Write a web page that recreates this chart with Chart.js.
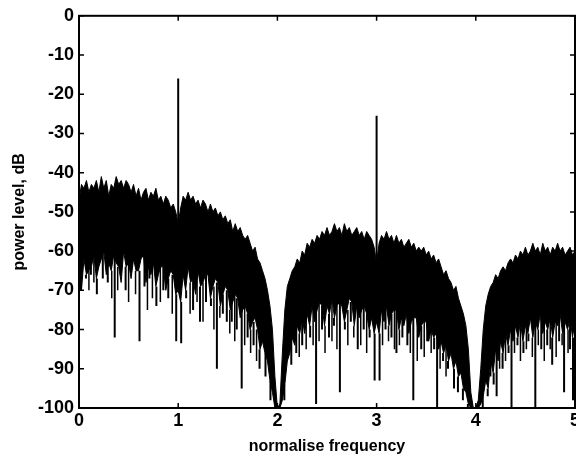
<!DOCTYPE html>
<html>
<head>
<meta charset="utf-8">
<title>power level vs normalise frequency</title>
<script src="https://cdn.jsdelivr.net/npm/chart.js@4.4.1/dist/chart.umd.min.js"></script>
<style>
  html, body { margin: 0; padding: 0; background: #fff; overflow: hidden; }
  .chart-wrap { width: 600px; height: 459px; }
</style>
</head>
<body>
<div class="chart-wrap"><canvas id="spectrumChart" width="600" height="459"></canvas></div>
<script>
/* ============================================
   POWER SPECTRUM - normalise frequency 0..5
   ============================================ */

// ===== DATA =====
const freqTicks = [0, 1, 2, 3, 4, 5];
const levelTicks = [0, -10, -20, -30, -40, -50, -60, -70, -80, -90, -100];

// top edge of the dense band, one value every 0.025
const upperStep = 0.025;
const upperLevel = [
    -47, -43, -44, -42, -45, -43, -44, -42, -45, -41,
    -44, -42, -46, -43, -44, -41, -43, -42, -44, -42,
    -43, -45, -43, -46, -44, -47, -45, -44, -47, -45,
    -46, -44, -47, -46, -48, -46, -47, -49, -48, -50,
    -53, -49, -46, -47, -45, -47, -46, -48, -47, -49,
    -47, -48, -50, -48, -50, -49, -51, -50, -52, -51,
    -53, -52, -55, -53, -55, -54, -56, -57, -56, -58,
    -60, -59, -62, -63, -65, -67, -70, -74, -80, -92,
    -100, -99, -86, -75, -69, -67, -65, -64, -62, -63,
    -60, -61, -58, -59, -57, -58, -56, -57, -55, -56,
    -54, -56, -55, -53, -55, -54, -56, -53, -55, -54,
    -56, -55, -54, -56, -55, -57, -55, -56, -57, -59,
    -63, -58, -56, -57, -55, -57, -56, -58, -56, -58,
    -57, -59, -58, -57, -59, -58, -60, -59, -60, -59,
    -61, -60, -62, -61, -63, -62, -64, -66, -65, -67,
    -68, -70, -69, -72, -74, -76, -79, -85, -96, -100,
    -100, -98, -90, -80, -74, -71, -69, -68, -66, -67,
    -65, -64, -65, -63, -62, -63, -61, -62, -60, -61,
    -59, -61, -60, -58, -60, -59, -61, -58, -60, -59,
    -61, -59, -60, -58, -60, -59, -61, -60, -59, -61,
    -60
];

// ragged bottom edge of the solid part of the band, one value every 0.025
const lowerStep = 0.025;
const lowerLevel = [
    -68, -70, -62, -66, -65, -64, -61, -67, -64, -62,
    -60, -66, -63, -65, -61, -63, -64, -68, -60, -64,
    -63, -67, -62, -65, -65, -62, -61, -68, -64, -66,
    -63, -69, -66, -64, -64, -70, -67, -65, -66, -71,
    -70, -73, -66, -70, -64, -68, -67, -71, -65, -69,
    -68, -66, -66, -72, -69, -67, -68, -74, -71, -69,
    -70, -75, -73, -71, -72, -77, -75, -74, -76, -80,
    -78, -77, -80, -85, -83, -86, -88, -93, -96, -100,
    -100, -100, -98, -94, -88, -86, -82, -84, -79, -81,
    -77, -81, -76, -79, -74, -78, -75, -73, -74, -79,
    -74, -76, -72, -77, -74, -73, -74, -78, -75, -72,
    -73, -79, -74, -77, -75, -74, -76, -80, -77, -81,
    -78, -81, -75, -78, -74, -79, -76, -75, -75, -80,
    -77, -79, -76, -81, -78, -77, -77, -82, -79, -78,
    -78, -83, -80, -82, -81, -85, -83, -86, -84, -88,
    -86, -90, -88, -92, -91, -95, -96, -99, -100, -100,
    -100, -100, -99, -97, -93, -95, -88, -91, -85, -88,
    -83, -86, -81, -84, -80, -83, -79, -82, -78, -83,
    -79, -81, -77, -82, -78, -80, -76, -81, -78, -80,
    -77, -82, -78, -79, -76, -81, -78, -80, -77, -82,
    -78
];

// long downward spikes below the band
const dipFreq = [
    0.02, 0.07, 0.12, 0.18, 0.24, 0.29, 0.36, 0.42, 0.47, 0.53,
    0.61, 0.66, 0.71, 0.78, 0.85, 0.90, 0.98, 1.03, 1.08, 1.15,
    1.22, 1.28, 1.33, 1.39, 1.45, 1.49, 1.54, 1.59, 1.64, 1.70,
    1.76, 1.82, 1.88, 1.93, 1.97, 2.03, 2.07, 2.14, 2.19, 2.25,
    2.33, 2.39, 2.45, 2.52, 2.57, 2.63, 2.68, 2.74, 2.81, 2.87,
    2.93, 2.98, 3.03, 3.09, 3.15, 3.20, 3.26, 3.31, 3.37, 3.45,
    3.51, 3.58, 3.61, 3.67, 3.72, 3.78, 3.82, 3.87, 3.92, 3.97,
    4.03, 4.07, 4.12, 4.18, 4.21, 4.27, 4.33, 4.36, 4.42, 4.48,
    4.53, 4.60, 4.66, 4.72, 4.77, 4.84, 4.89, 4.95, 4.98
];
const dipLevel = [
    -66, -67, -66, -71, -67, -68, -82, -68, -70, -67,
    -83, -69, -67, -74, -70, -72, -83, -83.5, -72, -75,
    -78, -73, -74, -90, -76, -78, -78, -80, -95, -82,
    -84, -90, -92, -98, -100, -100, -98, -89, -86, -84,
    -82, -99, -80, -82, -79, -96, -80, -78, -85, -80,
    -82, -93, -93, -80, -82, -86, -82, -84, -98, -85,
    -83, -85, -100, -88, -90, -95, -96, -98, -100, -100,
    -100, -100, -97, -94, -97, -90, -86, -100, -84, -86,
    -83, -100, -85, -84, -89, -83, -96, -85, -98
];

// shorter, thinner spikes in the ragged fringe
const fringeFreq = [
    0.10, 0.15, 0.33, 0.39, 0.50, 0.57, 0.69, 0.74, 0.82, 0.94,
    1.12, 1.19, 1.25, 1.36, 1.42, 1.52, 1.57, 1.67, 1.73, 1.79,
    2.22, 2.29, 2.36, 2.42, 2.48, 2.55, 2.60, 2.71, 2.77, 2.84,
    2.90, 3.06, 3.12, 3.18, 3.23, 3.34, 3.41, 3.48, 3.55, 3.64,
    3.70, 4.15, 4.24, 4.30, 4.39, 4.45, 4.51, 4.57, 4.63, 4.69,
    4.75, 4.81, 4.87, 4.93
];
const fringeLevel = [
    -70, -68, -72, -70, -73, -71, -75, -72, -73, -76,
    -76, -73, -78, -80, -77, -81, -83, -84, -86, -88,
    -87, -85, -84, -83, -86, -83, -85, -84, -82, -84,
    -86, -84, -83, -85, -84, -86, -88, -87, -86, -90,
    -92, -92, -90, -88, -86, -88, -85, -87, -84, -88,
    -85, -87, -84, -86
];

// the two pure tones
const toneFreq = [1, 3];
const toneLevel = [-16, -25.5];

// ===== HELPERS =====
function stepSeries(step, values) {
    return values.map((v, i) => ({ x: i * step, y: v }));
}

function spikeSeries(xs, ys, baseFor) {
    const pts = [];
    xs.forEach((x, i) => {
        pts.push({ x: x, y: baseFor(x) });
        pts.push({ x: x, y: ys[i] });
        pts.push({ x: x, y: null });
    });
    return pts;
}

const lowerAt = x => lowerLevel[Math.round(x / lowerStep)];
const upperAt = x => upperLevel[Math.round(x / upperStep)];

function spikeDataset(label, data, width) {
    return {
        label: label,
        data: data,
        borderColor: '#000',
        borderWidth: width,
        pointRadius: 0,
        spanGaps: false,
        fill: false
    };
}

// ===== FRAME + INWARD TICKS (matlab style) =====
const framePlugin = {
    id: 'frame',
    afterDatasetsDraw(chart) {
        const { ctx, chartArea: a, scales } = chart;
        ctx.save();
        ctx.strokeStyle = '#000';
        ctx.lineWidth = 2;
        ctx.strokeRect(a.left, a.top, a.right - a.left, a.bottom - a.top);
        ctx.lineWidth = 1.5;
        ctx.beginPath();
        freqTicks.forEach(v => {
            const px = scales.x.getPixelForValue(v);
            ctx.moveTo(px, a.bottom); ctx.lineTo(px, a.bottom - 5);
            ctx.moveTo(px, a.top); ctx.lineTo(px, a.top + 5);
        });
        levelTicks.forEach(v => {
            const py = scales.y.getPixelForValue(v);
            ctx.moveTo(a.left, py); ctx.lineTo(a.left + 5, py);
            ctx.moveTo(a.right, py); ctx.lineTo(a.right - 5, py);
        });
        ctx.stroke();
        ctx.restore();
    }
};

// ===== SPECTRUM CHART =====
function initSpectrumChart() {
    const canvas = document.getElementById('spectrumChart');
    if (!canvas) return;
    const ctx = canvas.getContext('2d');

    const tickFont = { family: 'Liberation Sans', size: 18, weight: 'bold' };
    const titleFont = { family: 'Liberation Sans', size: 16, weight: 'bold' };

    new Chart(ctx, {
        type: 'line',
        data: {
            datasets: [
                {
                    label: 'upper',
                    data: stepSeries(upperStep, upperLevel),
                    borderColor: '#000',
                    backgroundColor: '#000',
                    borderWidth: 1,
                    pointRadius: 0,
                    tension: 0,
                    fill: '+1'
                },
                {
                    label: 'lower',
                    data: stepSeries(lowerStep, lowerLevel),
                    borderColor: '#000',
                    borderWidth: 1,
                    pointRadius: 0,
                    tension: 0,
                    fill: false
                },
                spikeDataset('dips', spikeSeries(dipFreq, dipLevel, lowerAt), 2),
                spikeDataset('fringe', spikeSeries(fringeFreq, fringeLevel, lowerAt), 1.5),
                spikeDataset('tones', spikeSeries(toneFreq, toneLevel, upperAt), 2)
            ]
        },
        options: {
            responsive: false,
            animation: false,
            layout: {
                padding: { left: 0, right: 25, top: 14, bottom: 0 }
            },
            plugins: {
                legend: { display: false },
                tooltip: { enabled: false }
            },
            scales: {
                x: {
                    type: 'linear',
                    min: 0,
                    max: 5,
                    afterFit: s => { s.height = 51; },
                    afterBuildTicks: s => { s.ticks = freqTicks.map(v => ({ value: v })); },
                    grid: { display: false, drawTicks: false },
                    border: { display: false },
                    ticks: {
                        color: '#000',
                        font: tickFont,
                        padding: 2,
                        maxRotation: 0
                    },
                    title: {
                        display: true,
                        text: 'normalise frequency',
                        color: '#000',
                        font: titleFont,
                        padding: { top: 3, bottom: 3 }
                    }
                },
                y: {
                    min: -100,
                    max: 0,
                    afterFit: s => { s.width = 79; },
                    afterBuildTicks: s => { s.ticks = levelTicks.map(v => ({ value: v })); },
                    grid: { display: false, drawTicks: false },
                    border: { display: false },
                    ticks: {
                        color: '#000',
                        font: tickFont,
                        padding: 5
                    },
                    title: {
                        display: true,
                        text: 'power level, dB',
                        color: '#000',
                        font: titleFont,
                        padding: { top: 10, bottom: 10 }
                    }
                }
            }
        },
        plugins: [framePlugin]
    });
}

document.addEventListener('DOMContentLoaded', initSpectrumChart);
</script>
</body>
</html>
